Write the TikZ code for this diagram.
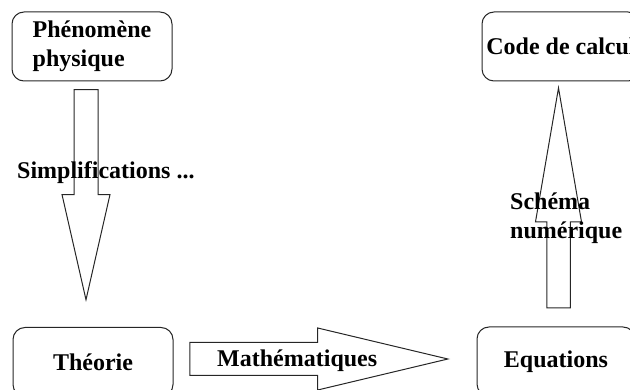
\documentclass[tikz,border=0pt]{standalone}
\usepackage{fontspec}
\setmainfont{Liberation Serif}
\usetikzlibrary{shapes.arrows}

\tikzset{
  every node/.style={font=\bfseries\fontsize{24}{29}\selectfont},
  box/.style={draw=black!85, line width=1pt, rounded corners=12pt,
    minimum width=160pt, minimum height=69pt, inner sep=0pt, align=left},
  blockarrow/.style={draw=black!85, line width=1pt, single arrow, inner sep=0pt,
    anchor=tip},
  lbl/.style={inner sep=0pt, align=left, anchor=base west}
}

\begin{document}
\begin{tikzpicture}[x=1pt, y=-1pt]
    \useasboundingbox (0,0) rectangle (630,390);
    \clip (0,0) rectangle (630,390);
    % boites
    \node[box] (phen) at (92,46.5) {Phénomène\\physique};
    \node[box, minimum width=158pt] (code) at (561,46.5) {Code de calcul};
    \node[box] (theo) at (93,362) {Théorie};
    \node[box, minimum width=158pt] (equa) at (556,361.5) {Equations};
    % fleches
    \node[blockarrow, minimum height=210pt, minimum width=47pt,
        inner ysep=11.5pt, single arrow head extend=12pt,
        single arrow tip angle=25.7, rotate=-90] (simpl) at (86,302) {};
    \node[blockarrow, minimum height=220pt, minimum width=45pt,
        inner ysep=11.25pt, single arrow head extend=11.25pt,
        single arrow tip angle=19.5, rotate=90] (schema) at (558.5,85) {};
    \node[blockarrow, minimum height=258pt, minimum width=61pt,
        inner ysep=16pt, single arrow head extend=14.5pt,
        single arrow tip angle=26.8] (math) at (450,359) {};
    % textes
    \node[lbl] (simpl-txt) at (17,179) {Simplifications ...};
    \node[lbl] (math-txt) at (217,367) {Mathématiques};
    \node[lbl] (schema-txt) at (510,239) {Schéma\\numérique};
\end{tikzpicture}
\end{document}
